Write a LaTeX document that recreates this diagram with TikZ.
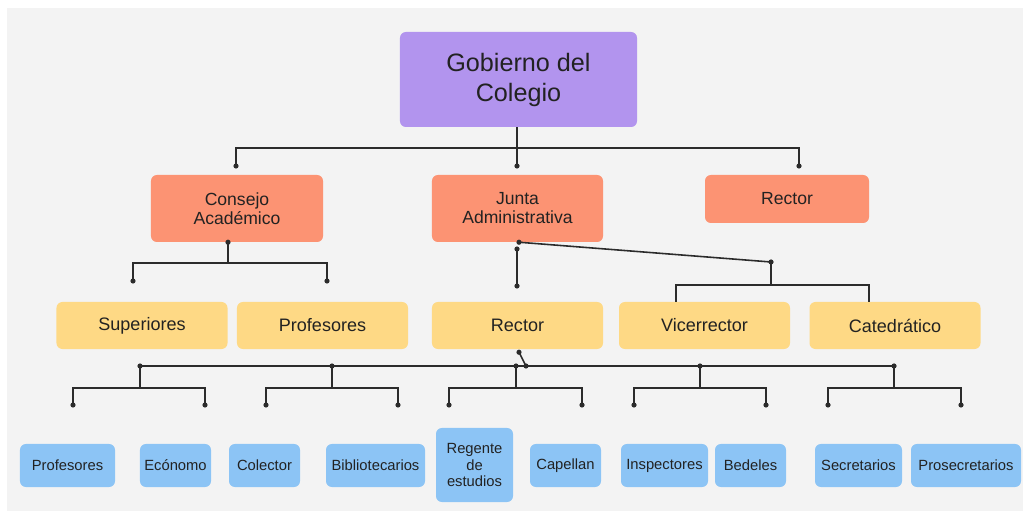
\documentclass[tikz,border=0pt]{standalone}
\usepackage{fontspec}
\setmainfont{Liberation Sans}
\usetikzlibrary{calc,positioning}

\definecolor{paper}{HTML}{F3F3F3}
\definecolor{ink}{HTML}{222222}
\definecolor{wire}{HTML}{2B2B2B}
\definecolor{govpurple}{HTML}{B294EE}
\definecolor{councilred}{HTML}{FC9373}
\definecolor{officeyellow}{HTML}{FED985}
\definecolor{staffblue}{HTML}{8CC4F5}

\tikzset{
    box/.style={rounded corners=5pt,align=center,text=ink,inner sep=0pt},
    headbox/.style={box,fill=govpurple,font=\fontsize{21.5}{25.6}\selectfont},
    councilbox/.style={box,fill=councilred,font=\fontsize{15}{16.2}\selectfont},
    officebox/.style={box,fill=officeyellow,minimum width=5.13cm,minimum height=1.41cm,font=\fontsize{15.4}{17}\selectfont},
    staffbox/.style={box,fill=staffblue,minimum height=1.29cm,font=\fontsize{12.6}{13.7}\selectfont},
    conn/.style={draw=wire,line width=1.35pt},
}

\begin{document}
\begin{tikzpicture}[x=0.03cm,y=-0.03cm]
        % Paper
        \useasboundingbox (0,0) rectangle (1023,511);
        \fill[paper] (7,8) rectangle (1023,511);

        % Head
        \node[headbox,minimum width=7.11cm,minimum height=2.85cm] (gobierno) at (518.5,79.5) {Gobierno del\\Colegio};

        % Councils
        \node[councilbox,minimum width=5.16cm,minimum height=2.01cm] (consejo) at (237,208.5) {Consejo\\Académico};
        \node[councilbox,minimum width=5.13cm,minimum height=2.01cm] (junta) at (517.5,208.5) {Junta\\Administrativa};
        \node[councilbox,minimum width=4.92cm,minimum height=1.44cm] (rectorgob) at (787,199) {Rector};

        % Offices
        \foreach \name/\x/\txt in {superiores/142/Superiores,profesores/322.5/Profesores,rector/517.5/Rector,vicerrector/704.5/Vicerrector,catedratico/895/Catedrático}
            \node[officebox] (\name) at (\x,325.5) {\txt};

        % Staff
        \foreach \name/\x/\w/\txt in {profesoresb/67.5/2.85/Profesores,economo/175.5/2.13/Ecónomo,colector/264.5/2.13/Colector,bibliotecarios/375.5/2.97/Bibliotecarios,capellan/565.5/2.13/Capellan,inspectores/664.5/2.61/Inspectores,bedeles/750.5/2.13/Bedeles,secretarios/858.5/2.61/Secretarios,prosecretarios/966/3.3/Prosecretarios}
            \node[staffbox,minimum width=\w cm] (\name) at (\x,465.5) {\txt};
        \node[staffbox,minimum width=2.31cm,minimum height=2.22cm] (regente) at (474.5,465) {Regente\\de\\estudios};

        % Head to councils
        \coordinate (busgob) at (517,148);
        \coordinate (dcons) at (236,166);
        \coordinate (djunta) at (517,166);
        \coordinate (drect) at (799,166);
        \draw[conn] (gobierno.south -| busgob) -- (djunta);
        \draw[conn] (dcons) |- (busgob) -| (drect);
        \foreach \p in {dcons,djunta,drect}
            \fill[wire] (\p) circle (2.6);

        % Consejo branches
        \coordinate (cons0) at ($(consejo.south)+(-9,0)$);
        \coordinate (consbus) at (228,263);
        \coordinate (consl) at (133,281);
        \coordinate (consr) at (327,281);
        \draw[conn] (cons0) -- (consbus);
        \draw[conn] (consl) |- (consbus) -| (consr);
        \foreach \p in {cons0,consl,consr}
            \fill[wire] (\p) circle (2.6);

        % Junta branches
        \coordinate (junta0) at ($(junta.south)+(1.5,0)$);
        \coordinate (juntav) at (771,262);
        \coordinate (juntabus) at (771,285);
        \draw[conn] (junta0) -- (juntav) -- (juntabus);
        \draw[conn] ($(vicerrector.north)+(-28.5,0)$) |- (juntabus) -| ($(catedratico.north)+(-26,0)$);
        \coordinate (mid0) at (517,249);
        \coordinate (mid1) at (517,286);
        \draw[conn] (mid0) -- (mid1);
        \foreach \p in {junta0,juntav,mid0,mid1}
            \fill[wire] (\p) circle (2.6);

        % Rector to staff
        \coordinate (rect0) at ($(rector.south)+(1.5,3)$);
        \coordinate (rect1) at (526,366);
        \draw[conn] (rect0) -- (rect1);
        \fill[wire] (rect0) circle (2.6) (rect1) circle (2.6);
        \foreach \g/\c/\l/\r in {1/140/73/205,2/332/266/398,3/516/449/582,4/700/634/766,5/894/828/961} {
            \coordinate (grp\g) at (\c,366);
            \coordinate (grp\g b) at (\c,388);
            \coordinate (grp\g l) at (\l,405);
            \coordinate (grp\g r) at (\r,405);
            \draw[conn] (grp\g) -- (grp\g b);
            \draw[conn] (grp\g l) |- (grp\g b) -| (grp\g r);
            \fill[wire] (grp\g) circle (2.6) (grp\g l) circle (2.6) (grp\g r) circle (2.6);
        }
        \draw[conn] (grp1) -- (grp5);

    \end{tikzpicture}
\end{document}
